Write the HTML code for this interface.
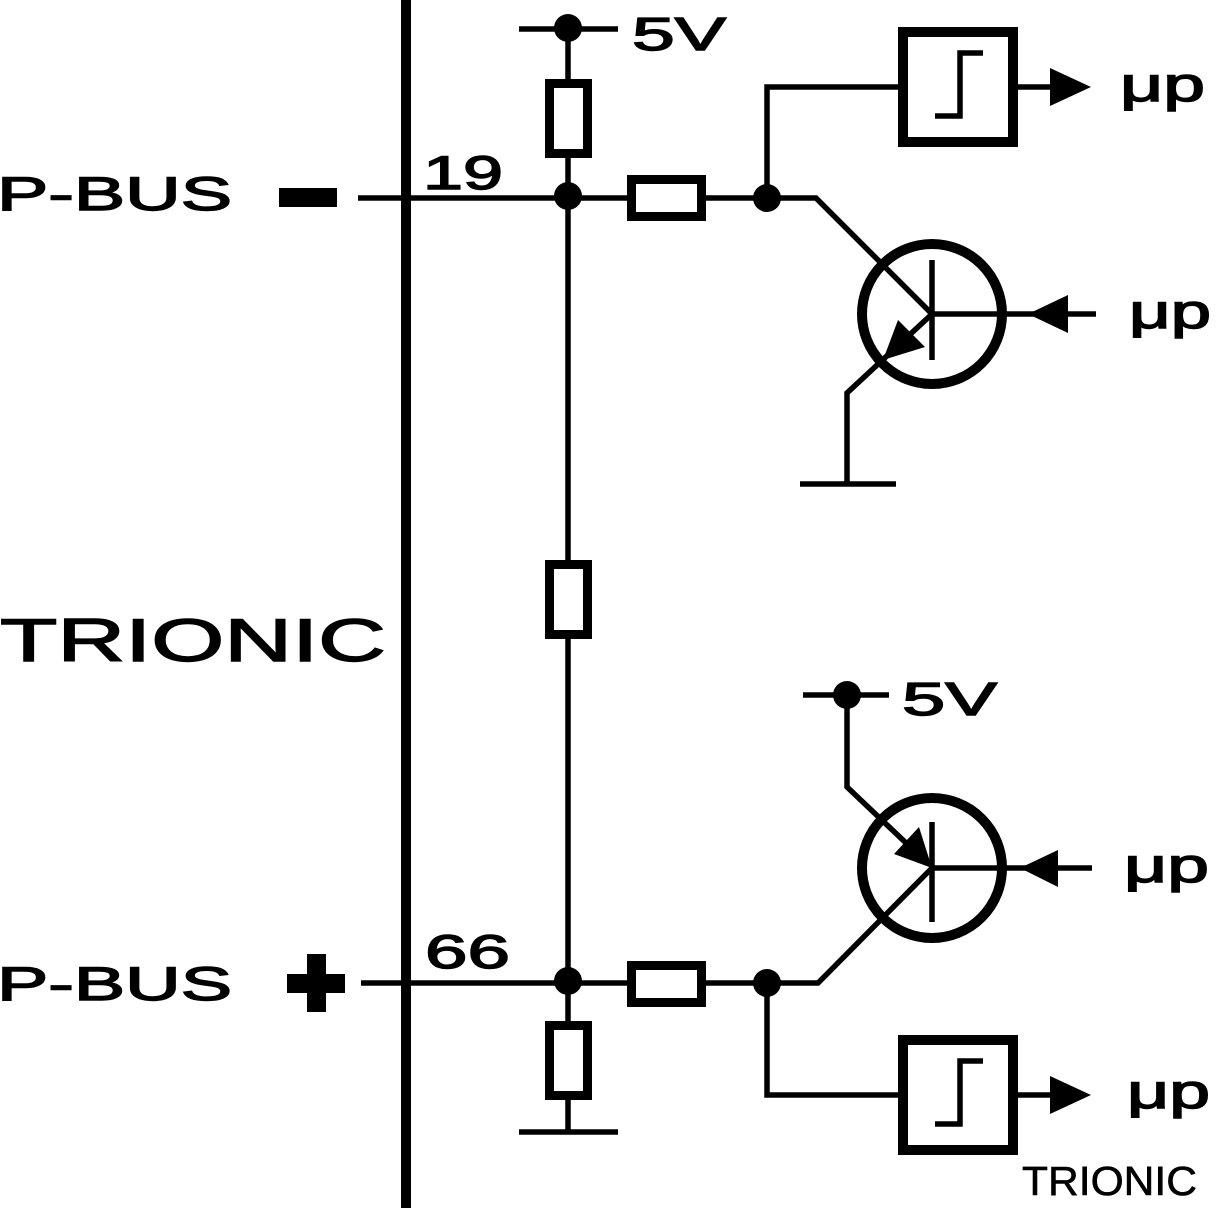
<!DOCTYPE html>
<html>
<head>
<meta charset="utf-8">
<style>
html,body{margin:0;padding:0;background:#fff;width:1216px;height:1228px;overflow:hidden}
svg{display:block}
text{font-family:"Liberation Sans",sans-serif;fill:#000;stroke:#000;stroke-width:1.4}
</style>
</head>
<body>
<svg width="1216" height="1228" viewBox="0 0 1216 1228" xmlns="http://www.w3.org/2000/svg">
<rect width="1216" height="1228" fill="#fff"/>
<g fill="none" stroke="#000" stroke-width="5.5">
  <path d="M519 29H618"/>
  <path d="M568 28V1132"/>
  <path d="M358 198H816L932 314"/>
  <path d="M361 983H818L932 868"/>
  <path d="M767 198V87H898"/>
  <path d="M767 983V1095H898"/>
  <path d="M1018 87H1052"/>
  <path d="M1018 1095H1052"/>
  <path d="M932 314H1096"/>
  <path d="M932 868H1092"/>
  <path d="M932 314L847 393V484"/>
  <path d="M800 484H896"/>
  <path d="M803 695H889"/>
  <path d="M847 695V787L925 861"/>
  <path d="M519 1132H618"/>
  <path d="M932 260V360"/>
  <path d="M932 822V922"/>
  <path d="M935 116H960V53H983"/>
  <path d="M935 1124H960V1061H983"/>
</g>
<rect x="401" y="0" width="10" height="1208" fill="#000"/>
<g fill="#fff" stroke="#000" stroke-width="9">
  <rect x="549.5" y="83.5" width="38" height="70"/>
  <rect x="549.5" y="564.5" width="38" height="70"/>
  <rect x="549.5" y="1025.5" width="38" height="70"/>
  <rect x="631.5" y="179.5" width="70" height="37"/>
  <rect x="631.5" y="965.5" width="70" height="37"/>
</g>
<g fill="none" stroke="#000" stroke-width="10">
  <rect x="903" y="32" width="110" height="110"/>
  <rect x="903" y="1040" width="110" height="110"/>
  <circle cx="932" cy="314" r="70"/>
  <circle cx="932" cy="868" r="70"/>
</g>
<g fill="#000">
  <circle cx="568" cy="28" r="14"/>
  <circle cx="568" cy="196" r="14"/>
  <circle cx="767" cy="198" r="14"/>
  <circle cx="568" cy="981" r="14"/>
  <circle cx="767" cy="983" r="14"/>
  <circle cx="847" cy="695" r="14"/>
  <path d="M1050 68L1091 87L1050 106Z"/>
  <path d="M1050 1076L1091 1095L1050 1114Z"/>
  <path d="M1068 295L1028 314L1068 333Z"/>
  <path d="M1058 850L1020 868L1058 887Z"/>
  <path d="M898 320L925 347L883 360Z"/>
  <path d="M919 827L894 854L932 868Z"/>
  <rect x="279" y="188" width="58" height="19"/>
  <path d="M307 954H326V974H345V993H326V1012H307V993H287V974H307Z"/>
</g>
<text x="-3" y="210" font-size="47" textLength="235" lengthAdjust="spacingAndGlyphs">P-BUS</text>
<text x="-3" y="1000" font-size="47" textLength="235" lengthAdjust="spacingAndGlyphs">P-BUS</text>
<text x="0" y="661" font-size="60" textLength="386" lengthAdjust="spacingAndGlyphs">TRIONIC</text>
<text x="423" y="189" font-size="47" textLength="80" lengthAdjust="spacingAndGlyphs">19</text>
<text x="425" y="968" font-size="47" textLength="85" lengthAdjust="spacingAndGlyphs">66</text>
<text x="632" y="50" font-size="46" textLength="94" lengthAdjust="spacingAndGlyphs">5V</text>
<text x="902" y="715" font-size="46" textLength="95" lengthAdjust="spacingAndGlyphs">5V</text>
<text x="1120" y="101" font-size="48" textLength="85" lengthAdjust="spacingAndGlyphs">μp</text>
<text x="1129" y="328" font-size="48" textLength="82" lengthAdjust="spacingAndGlyphs">μp</text>
<text x="1124" y="882" font-size="48" textLength="85" lengthAdjust="spacingAndGlyphs">μp</text>
<text x="1127" y="1108" font-size="48" textLength="83" lengthAdjust="spacingAndGlyphs">μp</text>
<text x="1022" y="1195" font-size="41" textLength="175" lengthAdjust="spacingAndGlyphs" style="stroke-width:.6">TRIONIC</text>
</svg>
</body>
</html>
